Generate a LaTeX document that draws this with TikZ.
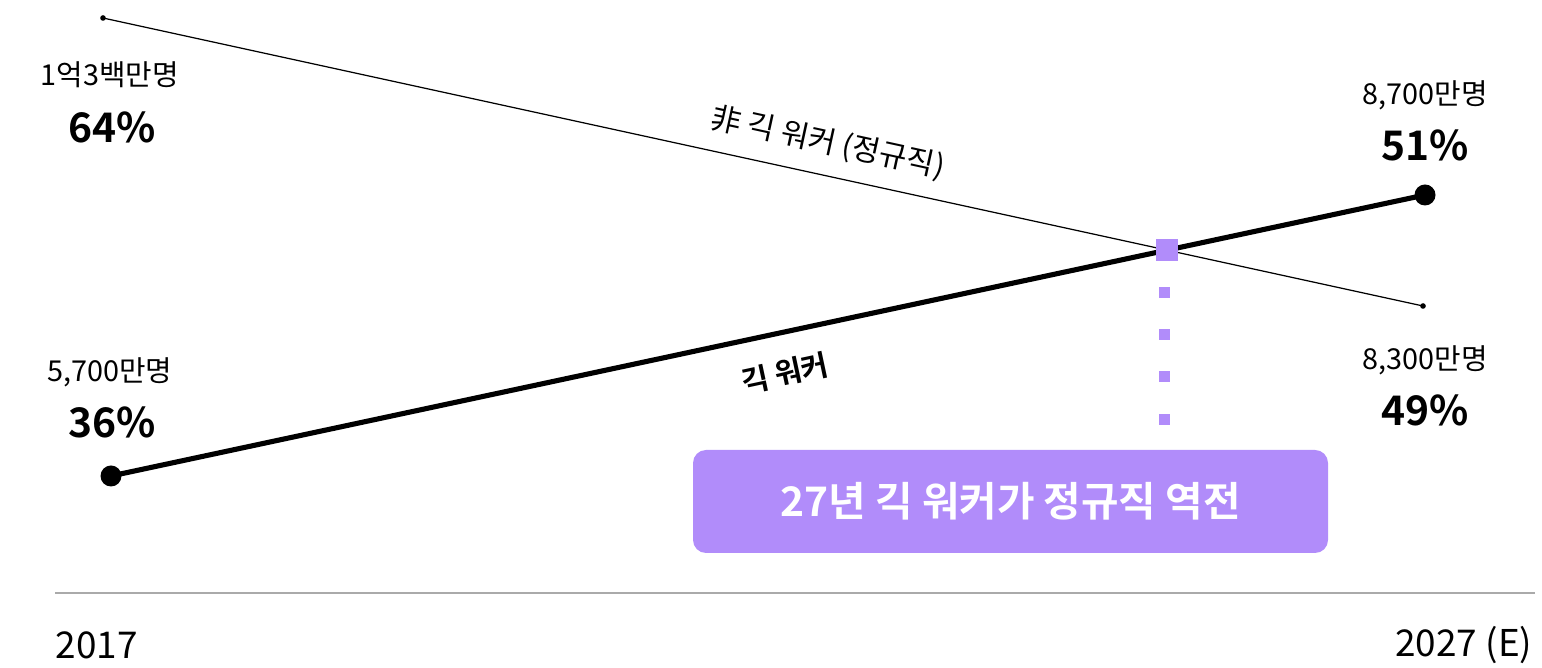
\documentclass[tikz,border=0pt]{standalone}
\usepackage{fontspec}
\setmainfont{Noto Sans CJK KR}[BoldFont={Noto Sans CJK KR Bold}]
\definecolor{gigpurple}{RGB}{177,140,250}
\definecolor{axisgray}{RGB}{170,170,170}
\tikzset{
  count/.style={font=\fontsize{8.2}{10}\selectfont, inner sep=0pt},
  share/.style={font=\bfseries\fontsize{11.6}{14}\selectfont, inner sep=0pt},
  year/.style={font=\fontsize{10.5}{12}\selectfont, inner sep=0pt},
  linelabel/.style={font=\fontsize{8.6}{10}\selectfont, inner sep=0pt},
}
\begin{document}
\begin{tikzpicture}
  \useasboundingbox (0, 0) rectangle (15.42, -6.68);

  % end points of the two series
  \coordinate (reg17) at (1.03, -0.18);
  \coordinate (reg27) at (14.23, -3.06);
  \coordinate (gig17) at (1.11, -4.76);
  \coordinate (gig27) at (14.25, -1.95);
  \coordinate (cross) at (intersection of reg17--reg27 and gig17--gig27);

  % non-gig (regular) line
  \draw[line width=0.35pt] (reg17) -- (reg27);
  \fill (reg17) circle (0.028);
  \fill (reg27) circle (0.028);
  \node[linelabel, rotate=-12.3] (reglabel) at (8.28, -1.43)
    {非 긱 워커 (정규직)};

  % gig line
  \draw[line width=1.45pt] (gig17) -- (gig27);
  \fill (gig17) circle (0.105);
  \fill (gig27) circle (0.105);
  \node[linelabel, font=\bfseries\fontsize{8.4}{10}\selectfont, rotate=12.1]
    (giglabel) at (7.85, -3.73) {긱 워커};

  % crossing marker and dots down to the box
  \fill[gigpurple] ([shift={(-0.11,-0.11)}]cross) rectangle ([shift={(0.11,0.11)}]cross);
  \foreach \y in {-2.93, -3.35, -3.77, -4.20}
    \fill[gigpurple] (11.585, \y-0.055) rectangle ++(0.11, 0.11);

  \node[fill=gigpurple, rounded corners=0.13cm, minimum width=6.35cm,
    minimum height=1.03cm, text=white,
    font=\bfseries\fontsize{11.6}{13}\selectfont] (flip) at (10.105, -5.015)
    {27년 긱 워커가 정규직 역전};

  % values, 2017
  \node[count] (reg17n) at (1.10, -0.75) {1억3백만명};
  \node[share] (reg17p) at (1.12, -1.27) {64\%};
  \node[count] (gig17n) at (1.10, -3.72) {5,700만명};
  \node[share] (gig17p) at (1.12, -4.22) {36\%};

  % values, 2027
  \node[count] (gig27n) at (14.25, -0.95) {8,700만명};
  \node[share] (gig27p) at (14.25, -1.45) {51\%};
  \node[count] (reg27n) at (14.25, -3.60) {8,300만명};
  \node[share] (reg27p) at (14.25, -4.10) {49\%};

  % time axis
  \coordinate (axisl) at (0.55, -5.93);
  \coordinate (axisr) at (15.35, -5.93);
  \draw[axisgray, line width=0.45pt] (axisl) -- (axisr);
  \node[year, anchor=west] (y2017) at (0.55, -6.45) {2017};
  \node[year, anchor=east] (y2027) at (15.33, -6.45) {2027 (E)};
\end{tikzpicture}
\end{document}
